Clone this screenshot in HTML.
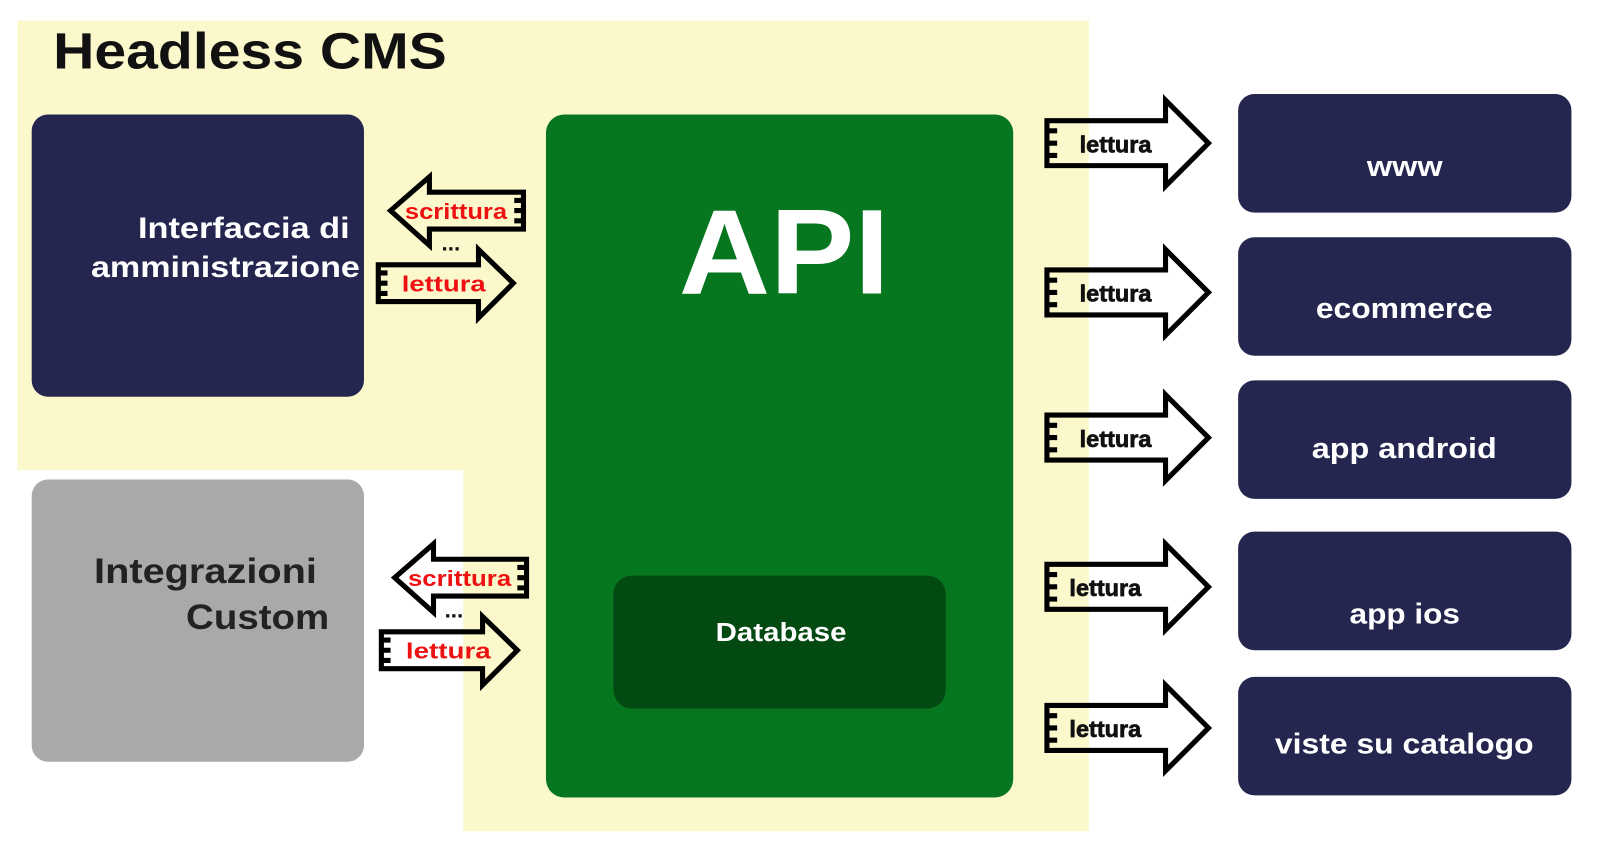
<!DOCTYPE html>
<html><head><meta charset="utf-8"><style>
html,body{margin:0;padding:0;background:#fff;}
svg{display:block;}
text{font-family:"Liberation Sans",sans-serif;font-weight:bold;}
</style></head><body>
<svg width="1600" height="844" viewBox="0 0 1600 844" xmlns="http://www.w3.org/2000/svg">
<rect width="1600" height="844" fill="#fff"/>
<g transform="scale(1.0224)">
<path d="M17 20 H1065 V813 H453 V460 H17 Z" fill="#fbf9cc"/>
<text x="52" y="67" font-size="50" fill="#111" textLength="385" lengthAdjust="spacingAndGlyphs" style="font-weight:600">Headless CMS</text>

<rect x="31" y="112" width="325" height="276" rx="16" fill="#25264f"/>
<text x="135" y="233" font-size="29" fill="#fff" textLength="207" lengthAdjust="spacingAndGlyphs">Interfaccia di</text>
<text x="89" y="271" font-size="29" fill="#fff" textLength="263" lengthAdjust="spacingAndGlyphs">amministrazione</text>

<rect x="31" y="469" width="325" height="276" rx="16" fill="#a9a9a9"/>
<text x="92" y="570" font-size="34" fill="#222" textLength="218" lengthAdjust="spacingAndGlyphs">Integrazioni</text>
<text x="182" y="615" font-size="34" fill="#222" textLength="140" lengthAdjust="spacingAndGlyphs">Custom</text>

<rect x="534" y="112" width="457" height="668" rx="18" fill="#06761f"/>
<text x="664" y="287" font-size="118" fill="#fff" textLength="206" lengthAdjust="spacingAndGlyphs">API</text>
<rect x="600" y="563" width="325" height="130" rx="18" fill="#024a12"/>
<text x="700" y="627" font-size="25" fill="#fff" textLength="128" lengthAdjust="spacingAndGlyphs">Database</text>

<g fill="#25264f">
<rect x="1211" y="92" width="326" height="116" rx="16"/>
<rect x="1211" y="232" width="326" height="116" rx="16"/>
<rect x="1211" y="372" width="326" height="116" rx="16"/>
<rect x="1211" y="520" width="326" height="116" rx="16"/>
<rect x="1211" y="662" width="326" height="116" rx="16"/>
</g>
<g fill="#fff" font-size="28">
<text x="1337" y="172" textLength="74" lengthAdjust="spacingAndGlyphs">www</text>
<text x="1287" y="311" textLength="173" lengthAdjust="spacingAndGlyphs">ecommerce</text>
<text x="1283" y="448" textLength="181" lengthAdjust="spacingAndGlyphs">app android</text>
<text x="1320" y="610" textLength="108" lengthAdjust="spacingAndGlyphs">app ios</text>
<text x="1247" y="737" textLength="253" lengthAdjust="spacingAndGlyphs">viste su catalogo</text>
</g>

<g fill="none" stroke="#000" stroke-width="5" stroke-linejoin="miter">
<g id="ra">
<path d="M1024 118 H1140 V98 L1182 140 L1140 182 V162 H1024 Z"/>
<path d="M1024 128 H1034 M1024 140 H1034 M1024 152 H1034"/>
</g>
<use href="#ra" transform="translate(0,146)"/>
<use href="#ra" transform="translate(0,288)"/>
<use href="#ra" transform="translate(0,434)"/>
<use href="#ra" transform="translate(0,572)"/>
<path d="M512 188 H420 V173 L382 206 L420 240 V224 H512 Z"/>
<path d="M512 196 H503 M512 206 H503 M512 216 H503"/>
<path d="M370 259 H468 V244 L502 277 L468 311 V295 H370 Z"/>
<path d="M370 267 H379 M370 277 H379 M370 287 H379"/>
<path d="M515 547 H424 V532 L386 565 L424 599 V583 H515 Z"/>
<path d="M515 555 H506 M515 565 H506 M515 575 H506"/>
<path d="M373 618 H472 V603 L506 636 L472 670 V654 H373 Z"/>
<path d="M373 626 H382 M373 636 H382 M373 646 H382"/>
</g>
<g font-size="23" fill="#111" stroke="#111" stroke-width="0.7" style="font-weight:normal">
<text x="1056" y="149">lettura</text>
<text x="1056" y="295">lettura</text>
<text x="1056" y="437">lettura</text>
<text x="1046" y="583">lettura</text>
<text x="1046" y="721">lettura</text>
</g>
<g font-size="22" fill="#ee1111">
<text x="396" y="214" textLength="100" lengthAdjust="spacingAndGlyphs">scrittura</text>
<text x="393" y="285" textLength="82" lengthAdjust="spacingAndGlyphs">lettura</text>
<text x="399" y="573" textLength="101" lengthAdjust="spacingAndGlyphs">scrittura</text>
<text x="397" y="644" textLength="83" lengthAdjust="spacingAndGlyphs">lettura</text>
</g>
<text x="441" y="245" font-size="22" fill="#111" text-anchor="middle">...</text>
<text x="444" y="604" font-size="22" fill="#111" text-anchor="middle">...</text>
</g>
</svg>
</body></html>
